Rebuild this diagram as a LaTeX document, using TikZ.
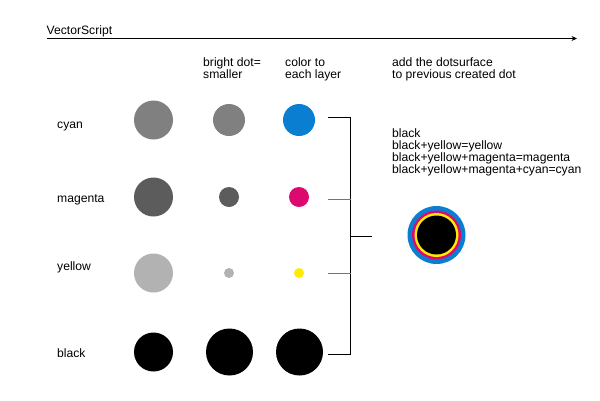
\documentclass[tikz,border=0pt]{standalone}
\usepackage{fontspec}
\setmainfont{Liberation Sans}
\usetikzlibrary{arrows.meta}
\definecolor{cy}{HTML}{0A7FD2}
\definecolor{ma}{HTML}{DC0A6E}
\definecolor{ye}{HTML}{FFEB00}
\tikzset{
 lbl/.style={anchor=west,inner sep=0pt,font=\fontsize{12.15}{12}\selectfont,align=left,text depth=0pt},
 dotc/.style={circle,inner sep=0pt,minimum size=#1,draw=none},
 br/.style={line width=1pt,black},
 brg/.style={line width=1pt,black!55}
}
\begin{document}
\begin{tikzpicture}[x=1pt,y=-1pt]
\useasboundingbox (0,0) rectangle (600,400);
\fill[white] (0,0) rectangle (600,400);
\node[lbl] (title) at (46.5,30) {VectorScript};
\coordinate (as) at (47,38.5);
\coordinate (ae) at (577,38.5);
\draw[line width=1pt,-{Stealth[length=5.5pt,width=5pt]}] (as) -- (ae);
\node[lbl] (h1) at (203,68.5) {bright dot=\\smaller};
\node[lbl] (h2) at (285,68.5) {color to\\each layer};
\node[lbl] (h3) at (392,68.5) {add the dotsurface\\to previous created dot};
\node[lbl] (lc) at (57,125.5) {cyan};
\node[lbl] (lm) at (57,198.5) {magenta};
\node[lbl] (ly) at (57,266.5) {yellow};
\node[lbl] (lk) at (57,353.5) {black};
\node[dotc=39pt,fill=black!50] (a1) at (153.5,120) {};
\node[dotc=39pt,fill=black!64] (a2) at (153.5,197) {};
\node[dotc=39pt,fill=black!30] (a3) at (153.5,273) {};
\node[dotc=39pt,fill=black] (a4) at (153.5,352) {};
\node[dotc=32pt,fill=black!50] (b1) at (229,120) {};
\node[dotc=20pt,fill=black!64] (b2) at (229,197) {};
\node[dotc=10pt,fill=black!30] (b3) at (229,273) {};
\node[dotc=47pt,fill=black] (b4) at (229.5,352) {};
\node[dotc=32pt,fill=cy] (c1) at (299,120) {};
\node[dotc=20pt,fill=ma] (c2) at (299,197) {};
\node[dotc=10pt,fill=ye] (c3) at (299,273) {};
\node[dotc=47pt,fill=black] (c4) at (299.5,352) {};
\coordinate (t1) at (328,117.5);
\coordinate (t2) at (328,199);
\coordinate (t3) at (328,273);
\coordinate (t4) at (328,354.5);
\coordinate (m1) at (350.5,199);
\coordinate (m2) at (350.5,273);
\coordinate (m3) at (350.5,236.5);
\coordinate (m4) at (372,236.5);
\draw[br] (t1) -| (m1 |- t4) -- (t4);
\draw[brg] (t2) -- (m1);
\draw[brg] (t3) -- (m2);
\draw[br] (m3) -- (m4);
\node[lbl] (mix) at (392,151.5) {black\\black+yellow=yellow\\black+yellow+magenta=magenta\\black+yellow+magenta+cyan=cyan};
\node[dotc=58pt,fill=cy] (r1) at (436.5,235) {};
\node[dotc=49pt,fill=ma] (r2) at (436.5,235) {};
\node[dotc=44pt,fill=ye] (r3) at (436.5,235) {};
\node[dotc=39pt,fill=black] (r4) at (436.5,235) {};
\end{tikzpicture}
\end{document}
